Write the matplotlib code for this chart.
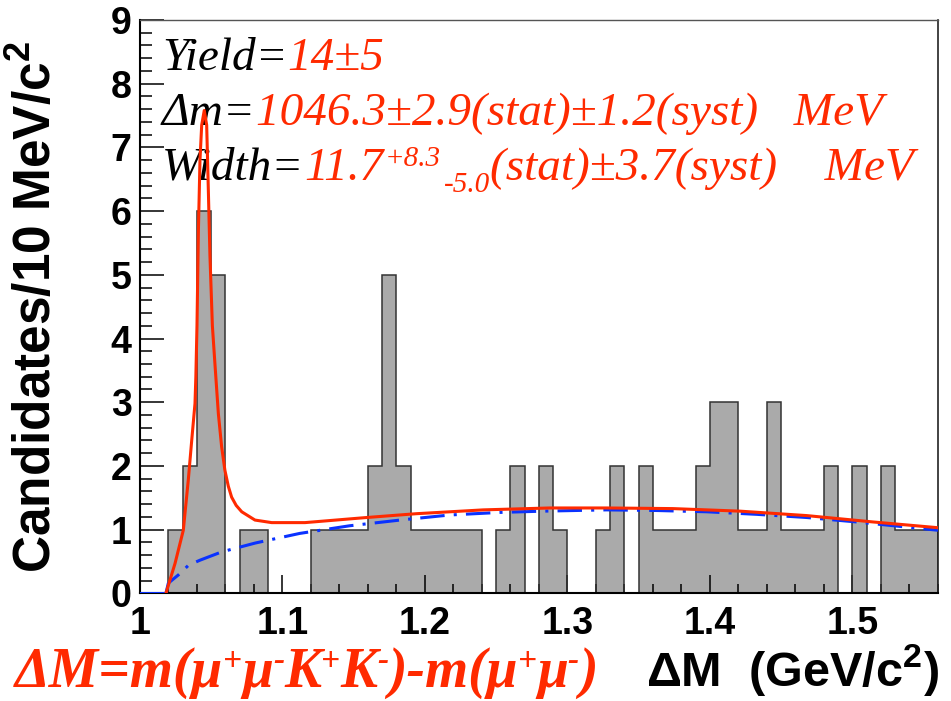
import numpy as np
import matplotlib
matplotlib.use("Agg")
import matplotlib.pyplot as plt
from matplotlib.font_manager import FontProperties

# Delta M histogram, 10 MeV bins from 1.00 to 1.56 GeV
bin_lo = 1.00
bin_w = 0.01
counts = [0, 0, 1, 2, 6, 5, 0, 1, 1, 0,
          0, 0, 1, 1, 1, 1, 2, 5, 2, 1,
          1, 1, 1, 1, 0, 1, 2, 0, 2, 1,
          0, 0, 1, 2, 0, 2, 1, 1, 1, 2,
          3, 3, 1, 1, 3, 1, 1, 1, 2, 0,
          2, 0, 2, 1, 1, 1]

# total fit (signal + background)
fit_x = [1.0182, 1.0246, 1.0304, 1.0339, 1.0363, 1.0386, 1.0392, 1.0400,
         1.0410, 1.0421, 1.0433, 1.0451, 1.0468, 1.0480, 1.0491, 1.0508,
         1.0526, 1.0550, 1.0573, 1.0596, 1.0620, 1.0643, 1.0675, 1.0714,
         1.0807, 1.0924, 1.1158, 1.159, 1.194, 1.241, 1.2877, 1.3275,
         1.374, 1.421, 1.468, 1.5146, 1.56]
fit_y = [0.0, 0.47, 0.99, 1.78, 2.40, 2.98, 3.4, 4.2,
         5.7, 6.8, 7.35, 7.58, 7.35, 6.3, 5.3, 4.2,
         3.6, 2.82, 2.30, 1.93, 1.68, 1.51, 1.38, 1.28,
         1.15, 1.11, 1.11, 1.19, 1.25, 1.31, 1.34, 1.34,
         1.33, 1.29, 1.22, 1.12, 1.03]

# background only
bkg_x = [1.0, 1.0182, 1.0199, 1.027, 1.034, 1.0421, 1.0573, 1.081, 1.112,
         1.147, 1.1825, 1.2175, 1.2526, 1.283, 1.3275, 1.3626, 1.3977,
         1.4328, 1.468, 1.503, 1.538, 1.56]
bkg_y = [0.0, 0.0, 0.16, 0.29, 0.44, 0.52, 0.65, 0.79, 0.94,
         1.06, 1.15, 1.23, 1.27, 1.29, 1.31, 1.30, 1.28,
         1.24, 1.19, 1.12, 1.04, 0.99]

red = "#ff2a00"
blue = "#0a32ff"
W, H = 951, 701

plt.rcParams["mathtext.fontset"] = "custom"
plt.rcParams["mathtext.bf"] = "Liberation Sans:bold"

fig = plt.figure(figsize=(W / 100, H / 100), dpi=100)
ax = fig.add_axes([0.1472, 0.1536, 0.8391, 0.8179])

edges = bin_lo + bin_w * np.arange(len(counts) + 1)
ax.stairs(counts, edges, fill=True, color="#aaaaaa", zorder=1)
ax.stairs(counts, edges, color="#333333", linewidth=1.1, zorder=2)

ax.plot(bkg_x[:2], bkg_y[:2], color=blue, lw=2.2, zorder=3)
ax.plot(bkg_x[1:], bkg_y[1:], color=blue, lw=2.2, zorder=3,
        linestyle=(0, (8, 3, 1, 3)))
ax.plot(fit_x, fit_y, color=red, lw=2.2, zorder=4)

ax.set_xlim(1.0, 1.56)
ax.set_ylim(0, 9)
ax.set_xticks(np.arange(1.0, 1.51, 0.1))
ax.set_xticklabels(["1", "1.1", "1.2", "1.3", "1.4", "1.5"])
ax.set_xticks(np.arange(1.0, 1.561, 0.02), minor=True)
ax.set_yticks(range(10))
ax.set_yticks(np.arange(0, 9.01, 0.2), minor=True)

tick_fp = FontProperties(family="Liberation Sans", weight="bold", size=27)
for lab in ax.get_xticklabels() + ax.get_yticklabels():
    lab.set_fontproperties(tick_fp)

ax.tick_params(axis="y", which="major", direction="in", length=17, width=1.1, pad=6)
ax.tick_params(axis="y", which="minor", direction="in", length=8.5, width=1.1)
ax.tick_params(axis="x", which="major", direction="in", length=13, width=1.1, pad=9)
ax.tick_params(axis="x", which="minor", direction="in", length=6.5, width=1.1)

for side in ["left", "bottom"]:
    ax.spines[side].set_linewidth(1.5)
    ax.spines[side].set_color("black")
ax.spines["top"].set_linewidth(1.0)
ax.spines["top"].set_color("#555555")
ax.spines["right"].set_linewidth(1.2)
ax.spines["right"].set_color("#222222")

ax.set_ylabel("Candidates/10 MeV/c$^{\\mathbf{2}}$", fontsize=37,
              family="Liberation Sans", weight="bold")
ax.yaxis.set_label_coords(-0.098, 0.5)

fig.text(0.988, 0.02, "\u0394M  (GeV/c$^{\\mathbf{2}}$)", ha="right", va="baseline",
         fontsize=35, family="Liberation Sans", weight="bold")

# formula under the axis, laid out piece by piece so the charges sit raised
renderer = fig.canvas.get_renderer()
big = dict(family="Liberation Serif", style="italic", weight="bold", fontsize=40, color=red)
tiny = dict(family="Liberation Serif", style="italic", weight="bold", fontsize=24, color=red)
pieces = [("\u0394M=m(\u03bc", big), ("+", tiny), ("\u03bc", big), ("-", tiny),
          ("K", big), ("+", tiny), ("K", big), ("-", tiny),
          (")-m(\u03bc", big), ("+", tiny), ("\u03bc", big), ("-", tiny), (")", big)]
px = 15
base = 14
for txt, style in pieces:
    dy = 17 if style is tiny else 0
    t = fig.text(px / W, (base + dy) / H, txt, ha="left", va="baseline", **style)
    px = t.get_window_extent(renderer).x1

# fit result annotations
serif = dict(family="Liberation Serif", style="italic", fontsize=34)
x0 = 0.0276
t = ax.text(x0, 0.9128, "Yield=", color="black", va="baseline", transform=ax.transAxes, **serif)
ax.annotate("14\u00b15", xy=(1, 0), xycoords=t, va="bottom", color=red, **serif)

t = ax.text(x0, 0.8168, "\u0394m=", color="black", va="baseline", transform=ax.transAxes, **serif)
ax.annotate("1046.3\u00b12.9(stat)\u00b11.2(syst)   MeV", xy=(1, 0), xycoords=t,
            va="bottom", color=red, **serif)

t = ax.text(x0, 0.7209, "Width=", color="black", va="baseline", transform=ax.transAxes, **serif)
t = ax.annotate("11.7", xy=(1, 0), xycoords=t, va="bottom", color=red, **serif)
small = dict(family="Liberation Serif", style="italic", fontsize=21)
sup = ax.annotate("+8.3", xy=(1, 0), xycoords=t, xytext=(1, 13), textcoords="offset points",
                  va="bottom", color=red, **small)
sub = ax.annotate("-5.0", xy=(1, 0), xycoords=sup, xytext=(2, -19), textcoords="offset points",
                  va="bottom", color=red, **small)
ax.annotate("(stat)\u00b13.7(syst)    MeV", xy=(1, 0), xycoords=sub, xytext=(0, 6),
            textcoords="offset points", va="bottom", color=red, **serif)

fig.savefig("out.png", dpi=100)
